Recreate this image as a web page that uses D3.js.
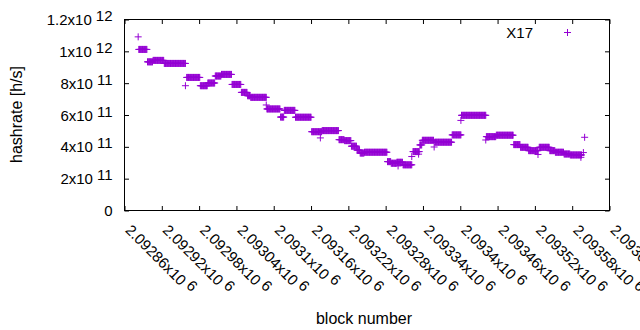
<!DOCTYPE html>
<html>
<head>
<meta charset="utf-8">
<script src="https://cdn.jsdelivr.net/npm/d3@7"></script>
<style>
body { margin: 0; background: #fff; }
text { font-family: "Liberation Sans", Arial, sans-serif; fill: #000; }
</style>
</head>
<body>
<svg id="chart" width="640" height="330"></svg>
<script>
// runs of blocks sharing the same hashrate (hashrate in units of 1e11 h/s)
var blockFrom = [2092882, 2092883, 2092897, 2092906, 2092924, 2092958, 2092960, 2092982, 2092994, 2093006,
                 2093016, 2093033, 2093048, 2093058, 2093063, 2093088, 2093089, 2093111, 2093117, 2093135,
                 2093161, 2093175, 2093178, 2093205, 2093214, 2093225, 2093234, 2093239, 2093246, 2093283,
                 2093289, 2093298, 2093300, 2093308, 2093322, 2093324, 2093333, 2093335, 2093339, 2093358,
                 2093359, 2093387, 2093401, 2093402, 2093441, 2093442, 2093458, 2093486, 2093497, 2093510,
                 2093525, 2093527, 2093544, 2093553, 2093567, 2093577, 2093594, 2093598, 2093600];
var blockTo   = [2092882, 2092896, 2092905, 2092923, 2092958, 2092958, 2092981, 2092993, 2093005, 2093015,
                 2093032, 2093047, 2093057, 2093062, 2093088, 2093088, 2093110, 2093116, 2093134, 2093160,
                 2093177, 2093175, 2093204, 2093213, 2093224, 2093233, 2093238, 2093245, 2093282, 2093288,
                 2093297, 2093307, 2093300, 2093322, 2093322, 2093334, 2093333, 2093338, 2093357, 2093358,
                 2093386, 2093401, 2093401, 2093441, 2093441, 2093457, 2093485, 2093496, 2093509, 2093525,
                 2093525, 2093543, 2093552, 2093566, 2093576, 2093595, 2093594, 2093598, 2093600];
var hashrate  = [10.91, 10.12, 9.34, 9.43, 9.24, 7.84, 8.36, 7.84, 8.01, 8.45,
                 8.55, 7.92, 7.42, 7.21, 7.11, 6.63, 6.38, 5.87, 6.29, 5.86,
                 4.95, 4.56, 5.02, 4.45, 4.39, 4.04, 3.79, 3.61, 3.66, 3.07,
                 2.97, 3.03, 2.80, 2.87, 3.39, 3.70, 3.54, 4.12, 4.41, 3.99,
                 4.29, 4.75, 5.66, 5.98, 4.43, 4.64, 4.73, 4.14, 3.97, 3.76,
                 3.52, 3.97, 3.76, 3.66, 3.55, 3.49, 3.34, 3.64, 4.60];

var xTicks = [2092860, 2092920, 2092980, 2093040, 2093100, 2093160, 2093220,
              2093280, 2093340, 2093400, 2093460, 2093520, 2093580, 2093640];
var yTicks = [0, 2e11, 4e11, 6e11, 8e11, 1e12, 1.2e12];
var seriesName = "X17";

var margin = {top: 19.5, left: 124.5},
    width = 485,
    height = 191;
var color = "#9400d3";

var x = d3.scaleLinear().domain([2092860, 2093640]).range([0, width]);
var y = d3.scaleLinear().domain([0, 1.2e12]).range([height, 0]);

var svg = d3.select("#chart")
  .append("g")
    .attr("transform", "translate(" + margin.left + "," + margin.top + ")");

// mantissa / exponent split for gnuplot-like "1.2x10^12" labels
function sci(v) {
  if (v === 0) return ["0", null];
  var e = Math.floor(Math.log10(v));
  var m = +(v / Math.pow(10, e)).toPrecision(8);
  return [String(m), e];
}
function sciText(sel, v) {
  var p = sci(v);
  sel.append("tspan").text(p[1] === null ? p[0] : p[0] + "x10");
  if (p[1] !== null)
    sel.append("tspan").attr("dx", 4).attr("dy", -4).text(p[1]);
}

// ticks (inward, mirrored)
function tickLines(axis, tr) {
  svg.append("g").attr("transform", tr)
      .call(axis.tickSizeOuter(0).tickFormat(""))
    .call(function(g) { g.select(".domain").remove(); })
    .selectAll("line").attr("stroke", "#000");
}
tickLines(d3.axisBottom(x).tickValues(xTicks).tickSizeInner(-4.5), "translate(0," + height + ")");
tickLines(d3.axisTop(x).tickValues(xTicks).tickSizeInner(-4.5), "translate(0,0)");
tickLines(d3.axisLeft(y).tickValues(yTicks).tickSizeInner(-4.5), "translate(0,0)");
tickLines(d3.axisRight(y).tickValues(yTicks).tickSizeInner(-4.5), "translate(" + width + ",0)");

svg.append("rect")
    .attr("width", width)
    .attr("height", height)
    .attr("fill", "none")
    .attr("stroke", "#000");

// y tick labels
svg.selectAll(".ylab")
    .data(yTicks)
  .enter().append("text")
    .attr("class", "ylab")
    .attr("x", -12)
    .attr("y", function(d) { return y(d) + 5.5; })
    .attr("text-anchor", "end")
    .style("font-size", "15px")
    .each(function(d) { sciText(d3.select(this), d); });

// x tick labels, rotated
svg.selectAll(".xlab")
    .data(xTicks)
  .enter().append("text")
    .attr("class", "xlab")
    .attr("transform", function(d) { return "translate(" + x(d) + "," + (height + 20.5) + ") rotate(45)"; })
    .style("font-size", "15px")
    .each(function(d) { sciText(d3.select(this), d); });

// axis titles
svg.append("text")
    .attr("x", 364 - margin.left)
    .attr("y", 324 - margin.top)
    .attr("text-anchor", "middle")
    .style("font-size", "16px")
    .text("block number");

svg.append("text")
    .attr("transform", "translate(" + (22 - margin.left) + "," + (114.5 - margin.top) + ") rotate(-90)")
    .attr("text-anchor", "middle")
    .style("font-size", "16px")
    .text("hashrate [h/s]");

// points: one "+" per block
var points = [];
blockFrom.forEach(function(b, i) {
  d3.range(b, blockTo[i] + 1).forEach(function(n) {
    points.push({block: n, rate: hashrate[i] * 1e11});
  });
});

var plus = "M-3.5,0H3.5M0,-3.5V3.5";

svg.selectAll(".dot")
    .data(points)
  .enter().append("path")
    .attr("class", "dot")
    .attr("d", plus)
    .attr("transform", function(d) { return "translate(" + x(d.block) + "," + y(d.rate) + ")"; })
    .attr("fill", "none")
    .attr("stroke", color)
    .attr("stroke-width", 1);

// legend
svg.append("text")
    .attr("x", 533 - margin.left)
    .attr("y", 37.5 - margin.top)
    .attr("text-anchor", "end")
    .style("font-size", "15px")
    .text(seriesName);
svg.append("path")
    .attr("d", plus)
    .attr("transform", "translate(" + (567.5 - margin.left) + "," + (32.5 - margin.top) + ")")
    .attr("fill", "none")
    .attr("stroke", color)
    .attr("stroke-width", 1);
</script>
</body>
</html>
